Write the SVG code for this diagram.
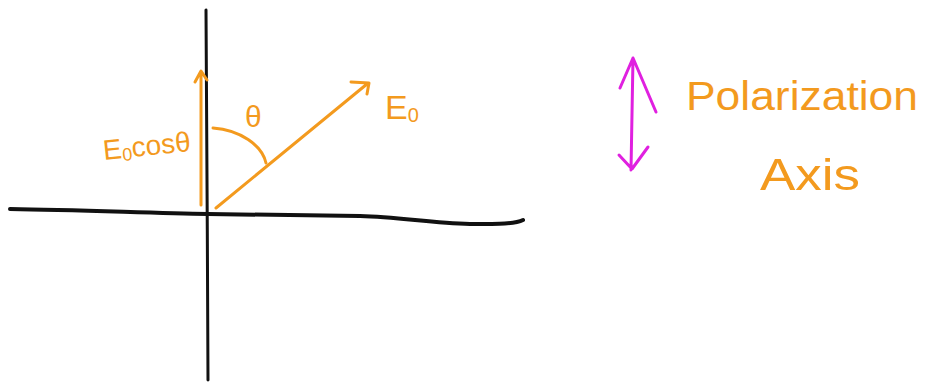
<svg xmlns="http://www.w3.org/2000/svg" width="942" height="383" viewBox="0 0 942 383">
<style>
.ax{fill:none;stroke:#111;stroke-linecap:round;stroke-linejoin:round}
.or{fill:none;stroke:#F39A1E;stroke-width:3;stroke-linecap:round;stroke-linejoin:round}
.mg{fill:none;stroke:#E020E0;stroke-width:3;stroke-linecap:round;stroke-linejoin:round}
.t{fill:#F39A1E;font-family:"Liberation Sans",Arial,sans-serif}
</style>
<rect width="942" height="383" fill="#fff"/>
<g id="axes">
<path class="ax" stroke-width="3" d="M206,10 C206,120 208,260 208,380"/>
<path class="ax" stroke-width="4" d="M10,209 C80,210 150,213 208,214 C280,215 330,216 360,216 C400,217 430,223 470,224 C500,224 515,224 523,220"/>
</g>
<g id="connectors">
<path class="or" d="M201,205 L201,72 M195,82 L201,71 L207,80"/>
<path class="or" d="M216,208 L367,84 M351,82 L369,83 L367,94"/>
<path class="or" d="M213,128 C240,130 262,145 266,163"/>
<path class="mg" d="M633,58 L631,170 M620,88 L633,58 L656,112 M619,155 L632,169 L648,147"/>
</g>
<g id="labels">
<text class="t" x="245" y="127" font-size="30">θ</text>
<text class="t" x="385" y="119" font-size="34">E<tspan font-size="20" dy="3">0</tspan></text>
<text class="t" x="104" y="160" font-size="28" transform="rotate(-6 104 160)">E<tspan font-size="18" dy="3">0</tspan><tspan dy="-3">cosθ</tspan></text>
<text class="t" x="686" y="110" font-size="40" textLength="232" lengthAdjust="spacingAndGlyphs">Polarization</text>
<text class="t" x="760" y="190" font-size="44" textLength="100" lengthAdjust="spacingAndGlyphs">Axis</text>
</g>
</svg>
